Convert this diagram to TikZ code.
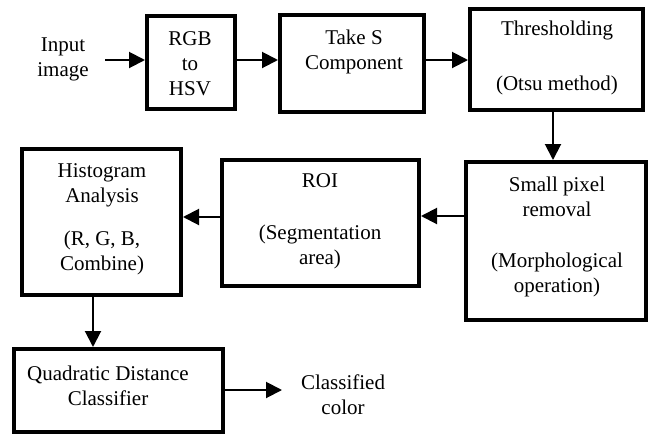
\documentclass[tikz,border=0pt]{standalone}
\usepackage{fontspec}
\setmainfont{Liberation Serif}
\usetikzlibrary{arrows.meta}
\begin{document}
\begin{tikzpicture}[x=1pt,y=-1pt,
  blk/.style={draw=black,line width=4pt,inner sep=0pt,minimum width=#1},
  lbl/.style={align=center,inner sep=0pt,font=\fontsize{21}{25}\selectfont,text=black},
  arr/.style={draw=black,line width=2pt,-{Triangle[length=16pt,width=16pt]}}]
\useasboundingbox (0,0) rectangle (651,437);
% boxes
\node[blk=88pt,minimum height=93pt] (rgb) at (191,62.5) {};
\node[blk=144pt,minimum height=97pt] (takes) at (352,63.5) {};
\node[blk=173pt,minimum height=101pt] (thr) at (556.5,59.5) {};
\node[blk=180pt,minimum height=158pt] (small) at (556,241) {};
\node[blk=197pt,minimum height=126pt] (roi) at (320.5,223) {};
\node[blk=159pt,minimum height=146pt] (hist) at (101.5,222) {};
\node[blk=209pt,minimum height=83pt] (quad) at (118.5,390.5) {};
% texts
\node[lbl] (inT) at (63,59.5) {Input\\image};
\node[lbl] (rgbT) at (190,64) {RGB\\to\\HSV};
\node[lbl] (takesT) at (354,52) {Take S\\Component};
\node[lbl] (thrT) at (557,58) {Thresholding\\[30pt](Otsu method)};
\node[lbl] (smallT) at (557,237) {Small pixel\\removal\\[26pt](Morphological\\operation)};
\node[lbl] (roiT) at (320,221) {ROI\\[27pt](Segmentation\\area)};
\node[lbl] (histT) at (102,219) {Histogram\\Analysis\\[18pt](R, G, B,\\Combine)};
\node[lbl] (quadT) at (108,386) {Quadratic Distance\\Classifier};
\node[lbl] (outT) at (343,395) {Classified\\color};
% connectors
\coordinate (inA) at (105,60);
\coordinate (outA) at (282,390);
\draw[arr] (inA) -- (rgb.west |- inA);
\draw[arr] (rgb.east |- inA) -- (takes.west |- inA);
\draw[arr] (takes.east |- inA) -- (thr.west |- inA);
\draw[arr] (thr.south -| 553,0) -- (small.north -| 553,0);
\draw[arr] (small.west |- 0,216) -- (roi.east |- 0,216);
\draw[arr] (roi.west |- 0,217) -- (hist.east |- 0,217);
\draw[arr] (hist.south -| 93,0) -- (quad.north -| 93,0);
\draw[arr] (quad.east |- outA) -- (outA);
\end{tikzpicture}
\end{document}
